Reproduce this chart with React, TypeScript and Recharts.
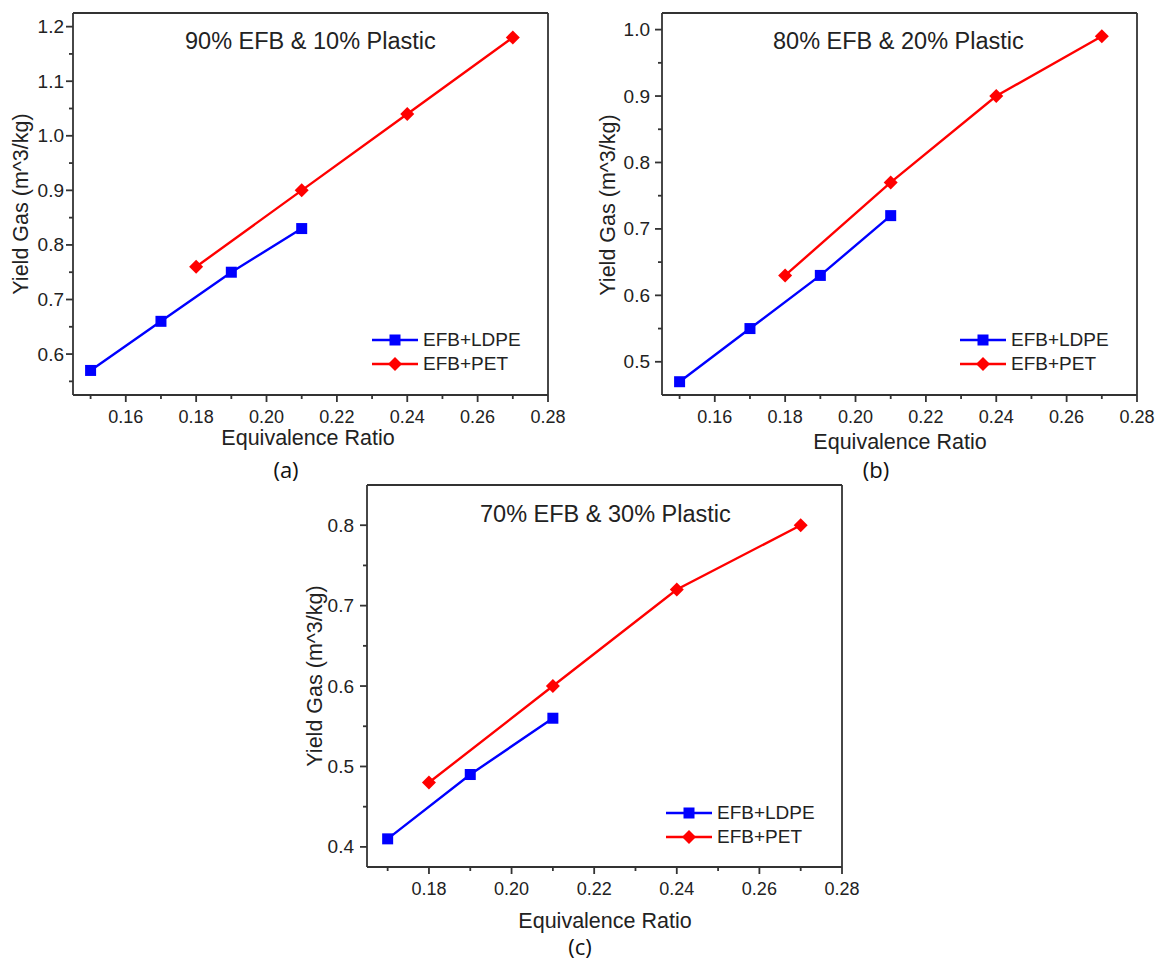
import React from 'react';
import { LineChart, Line, XAxis, YAxis, Legend } from 'recharts';

// equivalence ratios
const ldpeRatioAB = [0.15, 0.17, 0.19, 0.21];
const ldpeRatioC = [0.17, 0.19, 0.21];
const petRatio = [0.18, 0.21, 0.24, 0.27];

// gas yield (m^3/kg)
const ldpeYieldA = [0.57, 0.66, 0.75, 0.83];
const petYieldA = [0.76, 0.9, 1.04, 1.18];
const ldpeYieldB = [0.47, 0.55, 0.63, 0.72];
const petYieldB = [0.63, 0.77, 0.9, 0.99];
const ldpeYieldC = [0.41, 0.49, 0.56];
const petYieldC = [0.48, 0.6, 0.72, 0.8];

// ticks (major + minor)
const xTicksAB = [0.15, 0.16, 0.17, 0.18, 0.19, 0.2, 0.21, 0.22, 0.23, 0.24, 0.25, 0.26, 0.27, 0.28];
const xTicksC = [0.17, 0.18, 0.19, 0.2, 0.21, 0.22, 0.23, 0.24, 0.25, 0.26, 0.27, 0.28];
const yTicksA = [0.55, 0.6, 0.65, 0.7, 0.75, 0.8, 0.85, 0.9, 0.95, 1.0, 1.05, 1.1, 1.15, 1.2];
const yTicksB = [0.5, 0.55, 0.6, 0.65, 0.7, 0.75, 0.8, 0.85, 0.9, 0.95, 1.0];
const yTicksC = [0.4, 0.45, 0.5, 0.55, 0.6, 0.65, 0.7, 0.75, 0.8];

const SERIES = ['EFB+LDPE', 'EFB+PET'];
const BLUE = '#0000ff';
const RED = '#ff0000';
const AXIS = '#333';
const FONT = '"Liberation Sans", Arial, sans-serif';

// axis band sizes (recharts skips axes of zero size)
const BOTTOM_H = 30;
const TOP_H = 5;
const LEFT_W = 40;
const RIGHT_W = 5;

const zip = (xs: number[], ys: number[]) => xs.map((x, i) => ({ x, y: ys[i] }));

const squareDot = (props: any) => {
  const { cx, cy, index } = props;
  return <rect key={`sq-${index}`} x={cx - 5.5} y={cy - 5.5} width={11} height={11} fill={BLUE} />;
};

const diamondDot = (props: any) => {
  const { cx, cy, index } = props;
  return (
    <path
      key={`dm-${index}`}
      d={`M${cx},${cy - 7} L${cx + 7},${cy} L${cx},${cy + 7} L${cx - 7},${cy} Z`}
      fill={RED}
    />
  );
};

const isMajorX = (v: number) => Math.round(v * 100) % 2 === 0;
const isMajorY = (v: number) => Math.round(v * 100) % 10 === 0;

const makeXTick = (dir: number, label: boolean) => (props: any) => {
  const { x, y, payload } = props;
  const major = isMajorX(payload.value);
  const len = major ? 7 : 4;
  return (
    <g>
      <line x1={x} x2={x} y1={y} y2={y + dir * len} stroke={AXIS} strokeWidth={1.8} />
      {label && major && (
        <text x={x} y={y + 28} textAnchor="middle" fontSize={18} fontFamily={FONT} fill="#222">
          {payload.value.toFixed(2)}
        </text>
      )}
    </g>
  );
};

const makeYTick = (dir: number, label: boolean, gap: number) => (props: any) => {
  const { x, y, payload } = props;
  const major = isMajorY(payload.value);
  const len = major ? 7 : 4;
  return (
    <g>
      <line x1={x} x2={x + dir * len} y1={y} y2={y} stroke={AXIS} strokeWidth={1.8} />
      {label && major && (
        <text x={x - gap} y={y + 6.5} textAnchor="end" fontSize={19} fontFamily={FONT} fill="#222">
          {payload.value.toFixed(1)}
        </text>
      )}
    </g>
  );
};

const LegendBox = ({ payload }: any) => (
  <div style={{ fontFamily: FONT, fontSize: 19, color: '#222' }}>
    {(payload || []).map((p: any) => (
      <div key={p.value} style={{ display: 'flex', alignItems: 'center', height: 24 }}>
        <svg width={46} height={24}>
          <line x1={0} x2={46} y1={12} y2={12} stroke={p.color} strokeWidth={2.4} />
          {p.value === SERIES[0] ? (
            <rect x={17.5} y={6.5} width={11} height={11} fill={p.color} />
          ) : (
            <path d="M23,5 L30,12 L23,19 L16,12 Z" fill={p.color} />
          )}
        </svg>
        <span style={{ marginLeft: 5, lineHeight: '24px' }}>{p.value}</span>
      </div>
    ))}
  </div>
);

interface PanelProps {
  left: number;
  top: number;
  width: number;
  height: number;
  plot: { top: number; right: number; bottom: number; left: number };
  xDomain: [number, number];
  yDomain: [number, number];
  xTicks: number[];
  yTicks: number[];
  ldpe: { x: number; y: number }[];
  pet: { x: number; y: number }[];
  labelGap: number;
  legendPos: { left: number; top: number };
}

const Panel: React.FC<PanelProps> = (p) => {
  const margin = {
    top: p.plot.top - TOP_H,
    right: p.plot.right - RIGHT_W,
    bottom: p.plot.bottom - BOTTOM_H,
    left: p.plot.left - LEFT_W,
  };
  const common = {
    type: 'number' as const,
    interval: 0,
    tickSize: 0,
    tickMargin: 0,
    tickLine: false,
    axisLine: { stroke: AXIS, strokeWidth: 1.8 },
  };
  return (
    <div style={{ position: 'absolute', left: p.left, top: p.top }}>
      <LineChart width={p.width} height={p.height} margin={margin}>
        <XAxis {...common} dataKey="x" domain={p.xDomain} ticks={p.xTicks} height={BOTTOM_H} tick={makeXTick(1, true)} />
        <XAxis
          {...common}
          xAxisId="top"
          orientation="top"
          dataKey="x"
          domain={p.xDomain}
          ticks={p.xTicks}
          height={TOP_H}
          tick={makeXTick(1, false)}
        />
        <YAxis {...common} domain={p.yDomain} ticks={p.yTicks} width={LEFT_W} tick={makeYTick(-1, true, p.labelGap)} />
        <YAxis
          {...common}
          yAxisId="right"
          orientation="right"
          domain={p.yDomain}
          ticks={p.yTicks}
          width={RIGHT_W}
          tick={makeYTick(-1, false, 0)}
        />
        <Legend
          layout="vertical"
          align="center"
          verticalAlign="middle"
          content={<LegendBox />}
          wrapperStyle={{ left: p.legendPos.left, top: p.legendPos.top, width: 'auto' }}
        />
        <Line
          data={p.ldpe}
          dataKey="y"
          name={SERIES[0]}
          stroke={BLUE}
          strokeWidth={2.4}
          dot={squareDot}
          activeDot={false}
          isAnimationActive={false}
        />
        <Line
          data={p.pet}
          dataKey="y"
          name={SERIES[1]}
          stroke={RED}
          strokeWidth={2.4}
          dot={diamondDot}
          activeDot={false}
          isAnimationActive={false}
        />
      </LineChart>
    </div>
  );
};

const titleStyle = { fontFamily: FONT, fill: '#222' };

export default function App() {
  return (
    <div style={{ position: 'absolute', left: 0, top: 0, width: 1155, height: 963, background: '#fff' }}>
      <Panel
        left={0}
        top={0}
        width={580}
        height={490}
        plot={{ top: 13, right: 32, bottom: 95, left: 73 }}
        xDomain={[0.145, 0.28]}
        yDomain={[0.525, 1.225]}
        xTicks={xTicksAB}
        yTicks={yTicksA}
        ldpe={zip(ldpeRatioAB, ldpeYieldA)}
        pet={zip(petRatio, petYieldA)}
        labelGap={9}
        legendPos={{ left: 372, top: 328 }}
      />
      <Panel
        left={585}
        top={0}
        width={570}
        height={490}
        plot={{ top: 13, right: 18, bottom: 95, left: 77 }}
        xDomain={[0.145, 0.28]}
        yDomain={[0.45, 1.025]}
        xTicks={xTicksAB}
        yTicks={yTicksB}
        ldpe={zip(ldpeRatioAB, ldpeYieldB)}
        pet={zip(petRatio, petYieldB)}
        labelGap={12}
        legendPos={{ left: 375, top: 328 }}
      />
      <Panel
        left={290}
        top={470}
        width={580}
        height={493}
        plot={{ top: 15, right: 28, bottom: 96, left: 77 }}
        xDomain={[0.165, 0.28]}
        yDomain={[0.375, 0.85]}
        xTicks={xTicksC}
        yTicks={yTicksC}
        ldpe={zip(ldpeRatioC, ldpeYieldC)}
        pet={zip(petRatio, petYieldC)}
        labelGap={13}
        legendPos={{ left: 376, top: 331 }}
      />
      <svg
        width={1155}
        height={963}
        style={{ position: 'absolute', left: 0, top: 0, pointerEvents: 'none' }}
      >
        <text x={185} y={49} fontSize={23.5} {...titleStyle}>90% EFB &amp; 10% Plastic</text>
        <text x={773} y={49} fontSize={23.5} {...titleStyle}>80% EFB &amp; 20% Plastic</text>
        <text x={480} y={522} fontSize={23.5} {...titleStyle}>70% EFB &amp; 30% Plastic</text>

        <text x={308} y={445} fontSize={21.5} textAnchor="middle" {...titleStyle}>Equivalence Ratio</text>
        <text x={900} y={449} fontSize={21.5} textAnchor="middle" {...titleStyle}>Equivalence Ratio</text>
        <text x={605} y={928} fontSize={21.5} textAnchor="middle" {...titleStyle}>Equivalence Ratio</text>

        <text transform="translate(28,204) rotate(-90)" fontSize={21.5} textAnchor="middle" {...titleStyle}>Yield Gas (m^3/kg)</text>
        <text transform="translate(615,205) rotate(-90)" fontSize={21.5} textAnchor="middle" {...titleStyle}>Yield Gas (m^3/kg)</text>
        <text transform="translate(322,676) rotate(-90)" fontSize={21.5} textAnchor="middle" {...titleStyle}>Yield Gas (m^3/kg)</text>

        <g fontFamily='"Open Sans", "Noto Sans", sans-serif' fontSize={22} fill="#111" textAnchor="middle">
          <text x={286} y={478}>(a)</text>
          <text x={876} y={478}>(b)</text>
          <text x={580} y={955}>(c)</text>
        </g>
      </svg>
    </div>
  );
}
